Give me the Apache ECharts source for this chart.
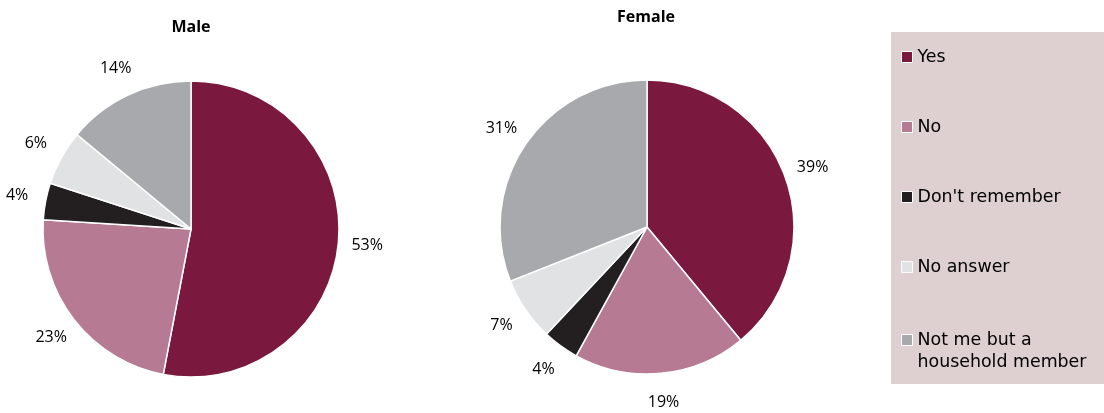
<!DOCTYPE html>
<html>
<head>
<meta charset="utf-8">
<script src="https://cdn.jsdelivr.net/npm/echarts@6/dist/echarts.min.js"></script>
<style>
html,body{margin:0;padding:0;background:#fff;}
#chart{width:1104px;height:413px;}
</style>
</head>
<body>
<div id="chart"></div>
<script>
var categories = ['Yes', 'No', "Don't remember", 'No answer', 'Not me but a\nhousehold member'];
var maleValues = [53, 23, 4, 6, 14];
var femaleValues = [39, 19, 4, 7, 31];
var colors = ['#7a183e', '#b67a93', '#231f20', '#e1e2e4', '#a7a9ac'];
var titles = ['Male', 'Female'];

function toData(vals) {
  return categories.map(function (c, i) {
    return { name: c, value: vals[i], itemStyle: { color: colors[i] } };
  });
}

var labelFont = { fontFamily: 'Open Sans', fontSize: 16, color: '#000' };

function pieSeries(vals, center, r) {
  return {
    type: 'pie',
    center: center,
    radius: [0, r],
    startAngle: 90,
    clockwise: true,
    silent: true,
    data: toData(vals),
    itemStyle: { borderColor: '#fff', borderWidth: 1.5 },
    label: { show: false },
    labelLine: { show: false },
    emphasis: { disabled: true }
  };
}

function labelRing(vals, center, r) {
  return {
    type: 'pie',
    center: center,
    radius: [r, r + 52],
    startAngle: 90,
    clockwise: true,
    silent: true,
    data: toData(vals).map(function (d) {
      d.itemStyle = { color: 'rgba(0,0,0,0)', borderWidth: 0 };
      return d;
    }),
    label: {
      show: true,
      position: 'inside',
      formatter: '{c}%',
      fontFamily: labelFont.fontFamily,
      fontSize: labelFont.fontSize,
      color: labelFont.color
    },
    labelLine: { show: false },
    emphasis: { disabled: true }
  };
}

var chart = echarts.init(document.getElementById('chart'), null, { renderer: 'canvas' });

var legendText = { fontFamily: 'DejaVu Sans', fontSize: 17.4, lineHeight: 22, color: '#000' };

chart.setOption({
  animation: false,
  backgroundColor: '#fff',
  graphic: [
    { type: 'rect', z: -10, shape: { x: 891, y: 32, width: 220, height: 352 }, style: { fill: '#decfd1' } },
    { type: 'text', x: 191, y: 27, style: { text: titles[0], align: 'center', verticalAlign: 'middle', font: 'bold 16px "Open Sans"', fill: '#000' } },
    { type: 'text', x: 646, y: 17, style: { text: titles[1], align: 'center', verticalAlign: 'middle', font: 'bold 16px "Open Sans"', fill: '#000' } }
  ],
  legend: [
    {
      data: categories.slice(0, 4),
      orient: 'vertical',
      left: 901,
      top: 46,
      padding: 0,
      itemWidth: 11,
      itemHeight: 11,
      itemGap: 48,
      icon: 'rect',
      selectedMode: false,
      itemStyle: { borderColor: '#fff', borderWidth: 1 },
      textStyle: legendText
    },
    {
      data: [categories[4]],
      formatter: function (name) { return '\n' + name; },
      orient: 'vertical',
      left: 901,
      top: 307,
      padding: 0,
      itemWidth: 11,
      itemHeight: 11,
      icon: 'rect',
      selectedMode: false,
      itemStyle: { borderColor: '#fff', borderWidth: 1 },
      textStyle: legendText
    }
  ],
  series: [
    pieSeries(maleValues, [191, 229], 148),
    pieSeries(femaleValues, [647, 227], 147),
    labelRing(maleValues, [191, 229], 148),
    labelRing(femaleValues, [647, 227], 147)
  ]
});
</script>
</body>
</html>
